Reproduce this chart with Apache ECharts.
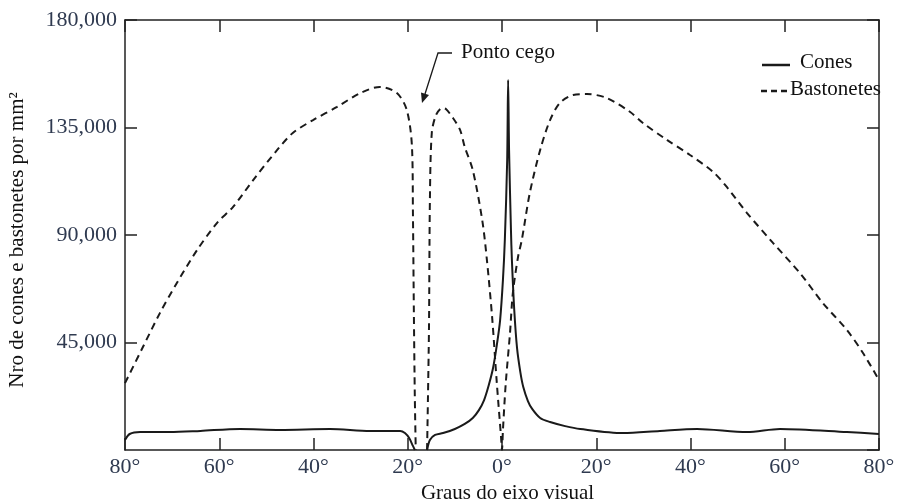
<!DOCTYPE html>
<html><head><meta charset="utf-8">
<script src="https://cdn.jsdelivr.net/npm/echarts@6/dist/echarts.min.js"></script>
<style>html,body{margin:0;padding:0;background:#fff}#c{width:898px;height:502px}</style>
</head><body><div id="c"></div>
<script>
// Tick values
const xTickMin = -80, xTickMax = 80, xTickStep = 20;
const yTickMin = 0, yTickMax = 180000, yTickStep = 45000;

// Bastonetes (rods) – degrees from fovea (negative = left) and density
const rodsDeg = [-80, -76.2, -72.6, -69.0, -64.7, -60.5, -57.1, -52.8, -47.7, -44.4, -40.1, -35.0, -30.1, -25.9, -22.3, -20.2, -19.1, -18.9, -18.7, -18.5, -18.3,
  -17.1,
  -15.9, -15.5, -15.3, -14.9, -14.0, -12.7, -11.9, -10.4, -8.9, -7.9, -6.2, -4.2, -3.2, -2.1, -1.1, -0.2, 0,
  0.2, 0.8, 1.7, 2.3, 3.4, 4.2, 5.9, 8.1, 10.2, 12.3, 15.1, 18.0, 22.3, 27.2, 29.9, 35.0, 39.9, 44.8, 47.7, 52.0, 57.5, 63.2, 68.1, 73.2, 76.6, 80];
const rodsVal = [28000, 43100, 57300, 69900, 83700, 95000, 101700, 113000, 125600, 132700, 138100, 143600, 149400, 152000, 149400, 142300, 126800, 99200, 57300, 22200, 0,
  null,
  0, 50200, 104600, 132700, 140200, 143200, 142700, 139000, 134000, 126800, 117200, 96300, 79500, 55700, 28000, 5400, 0,
  8400, 28000, 49000, 65700, 80800, 87900, 107600, 125600, 138100, 145300, 148600, 149000, 147300, 141500, 136900, 129800, 123500, 116400, 110100, 99200, 86700, 74100, 61500, 50200, 40600, 29300];

// Cones – degrees and density
const conesDeg = [-80, -79, -76.8, -70.5, -64, -55.6, -47.1, -36.5, -28, -21.6, -20.6, -19.7, -18.9, -18.5,
  -17.2,
  -15.9, -15.3, -14.2, -12.5, -10.0, -7.9, -6.2, -4.9, -3.8, -2.8, -1.9, -1.1, -0.4, 0.2, 0.6, 1.1, 1.3,
  1.5, 1.9, 2.1, 2.6, 3.2, 3.9, 4.5, 5.5, 6.4, 8.1, 10.2, 13.4, 16.6, 25.7, 33.5, 41.4, 52.0, 59.0, 73.2, 80];
const conesVal = [4200, 6700, 7500, 7500, 8000, 8800, 8400, 8800, 8000, 8000, 7100, 5000, 1700, 0,
  null,
  0, 4200, 6300, 7100, 8800, 10900, 13400, 16700, 20900, 27200, 34300, 43900, 54400, 71200, 87900, 121400, 154900,
  125600, 92100, 79500, 58600, 42500, 32500, 26500, 20500, 17200, 13400, 11700, 10000, 8800, 7100, 8000, 8800, 7500, 8800, 7500, 6700];

const seriesNames = ['Cones', 'Bastonetes'];
const xTitle = 'Graus do eixo visual';
const yTitle = 'Nro de cones e bastonetes por mm²';
const noteText = 'Ponto cego';

const pair = (xs, ys) => xs.map((x, i) => [x, ys[i] === null ? '-' : ys[i]]);

const FONT = '"Liberation Serif", "Times New Roman", serif';
const LBL = '#2f3a50';
const AX = '#222';

const chart = echarts.init(document.getElementById('c'), null, {renderer: 'canvas'});
const axLine = {show: true, onZero: false, lineStyle: {color: AX, width: 1.5}};
const axTick = {show: true, inside: true, length: 12, lineStyle: {color: AX, width: 1.5}};
chart.setOption({
  animation: false,
  backgroundColor: '#fff',
  grid: {left: 125, right: 19, top: 20, bottom: 52, containLabel: false, outerBoundsMode: 'none'},
  xAxis: [{
    type: 'value', min: xTickMin, max: xTickMax, interval: xTickStep, position: 'bottom',
    axisLine: axLine, axisTick: axTick, splitLine: {show: false},
    axisLabel: {margin: 6, fontFamily: FONT, fontSize: 22, color: LBL, formatter: v => Math.abs(v) + '°'},
    name: xTitle, nameLocation: 'middle', nameGap: 32,
    nameTextStyle: {fontFamily: FONT, fontSize: 21, color: '#111', padding: [0, 0, 0, 11]}
  }, {
    type: 'value', min: xTickMin, max: xTickMax, interval: xTickStep, position: 'top',
    axisLine: axLine, axisTick: axTick, splitLine: {show: false}, axisLabel: {show: false}
  }],
  yAxis: [{
    type: 'value', min: yTickMin, max: yTickMax, interval: yTickStep, position: 'left',
    axisLine: axLine, axisTick: axTick, splitLine: {show: false},
    axisLabel: {margin: 8, fontFamily: FONT, fontSize: 22, color: LBL, showMinLabel: false,
      formatter: v => v === 0 ? '' : v.toLocaleString('en-US')},
    name: yTitle, nameLocation: 'middle', nameGap: 97, nameRotate: 90,
    nameTextStyle: {fontFamily: FONT, fontSize: 21, color: '#111', padding: [0, 10, 0, 0]}
  }, {
    type: 'value', min: yTickMin, max: yTickMax, interval: yTickStep, position: 'right',
    axisLine: axLine, axisTick: axTick, splitLine: {show: false}, axisLabel: {show: false}
  }],
  series: [{
    name: seriesNames[0], type: 'line', xAxisIndex: 0, yAxisIndex: 0,
    data: pair(conesDeg, conesVal), showSymbol: false, connectNulls: false,
    smooth: 0.3,
    lineStyle: {color: '#1a1a1a', width: 2}
  }, {
    name: seriesNames[1], type: 'line', xAxisIndex: 0, yAxisIndex: 0,
    data: pair(rodsDeg, rodsVal), showSymbol: false, connectNulls: false,
    smooth: 0.3,
    lineStyle: {color: '#1a1a1a', width: 2, type: [7, 5]}
  }],
  graphic: [
    {type: 'line', shape: {x1: 762, y1: 65, x2: 790, y2: 65}, style: {stroke: '#1a1a1a', lineWidth: 2.5}},
    {type: 'text', x: 800, y: 62, style: {text: seriesNames[0], font: '21px ' + FONT, fill: '#111', verticalAlign: 'middle'}},
    {type: 'line', shape: {x1: 761, y1: 91, x2: 789, y2: 91}, style: {stroke: '#1a1a1a', lineWidth: 2.5, lineDash: [6, 4]}},
    {type: 'text', x: 790, y: 89, style: {text: seriesNames[1], font: '21px ' + FONT, fill: '#111', verticalAlign: 'middle'}},
    {type: 'text', x: 461, y: 52, style: {text: noteText, font: '21px ' + FONT, fill: '#111', verticalAlign: 'middle'}},
    {type: 'polyline', shape: {points: [[452, 53], [438, 53], [425, 94]]}, style: {stroke: '#1a1a1a', lineWidth: 1.3, fill: null}},
    {type: 'polygon', shape: {points: [[422, 103], [429, 95], [421, 92.5]]}, style: {fill: '#1a1a1a'}}
  ]
});
</script></body></html>
